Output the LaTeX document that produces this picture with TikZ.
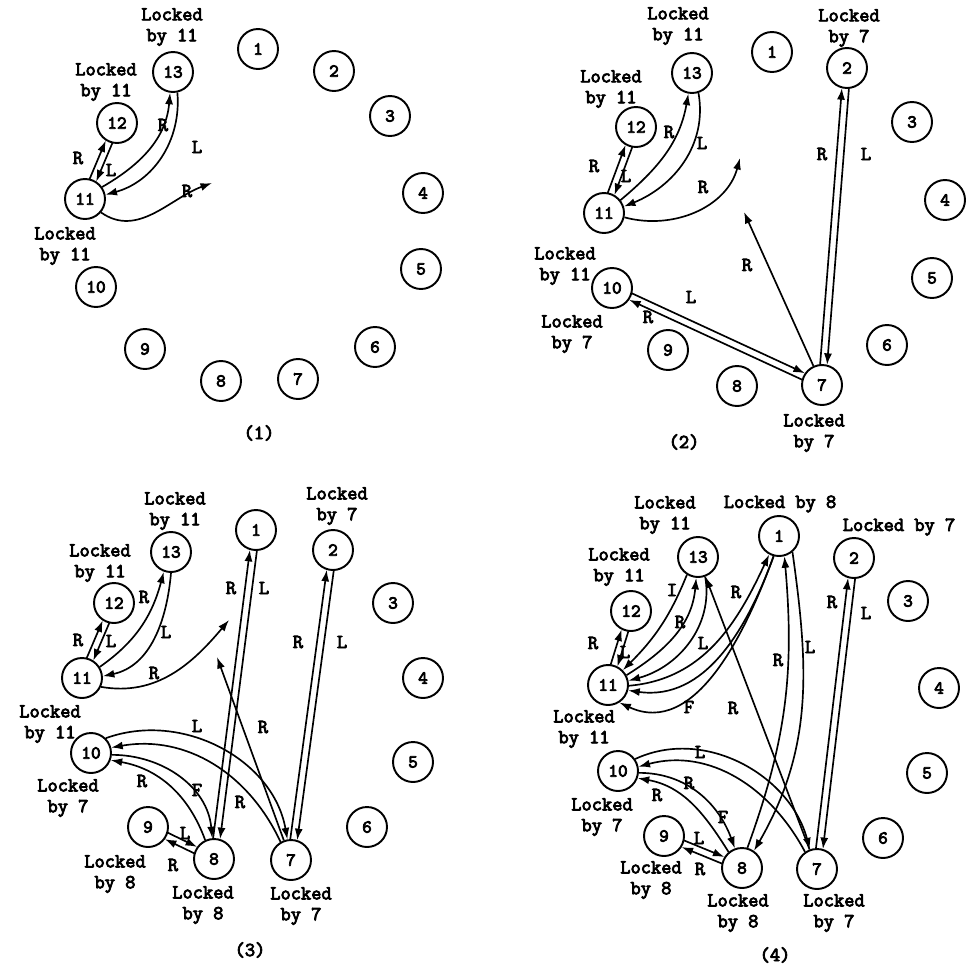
\documentclass[tikz,border=0pt]{standalone}
\usepackage{fontspec}
\setmonofont{Latin Modern Mono}[AutoFakeBold=4]
\usetikzlibrary{calc,arrows.meta}

% request and reply drawn side by side between two sites
\newcommand{\twoway}[2]{%
  \draw[msg,pair] ($(#1)!2pt!90:(#2)$) -- ($(#2)!2pt!-90:(#1)$);
  \draw[msg,pair] ($(#2)!2pt!90:(#1)$) -- ($(#1)!2pt!-90:(#2)$);}

\begin{document}
\begin{tikzpicture}[x=0.02cm, y=-0.02cm,
  site/.style={draw, circle, line width=1.1pt, minimum size=0.8cm, inner sep=0pt,
    font=\fontsize{10.5}{12}\selectfont\ttfamily\bfseries},
  lock/.style={align=center, inner sep=0pt,
    font=\fontsize{11.3}{11.9}\selectfont\ttfamily\bfseries},
  tag/.style={inner sep=0pt, font=\fontsize{11.3}{12}\selectfont\ttfamily\bfseries},
  msg/.style={line width=0.95pt, -{Latex[length=2.3mm,width=1.6mm]}},
  pair/.style={shorten <=0.4cm, shorten >=0.41cm}]
\useasboundingbox (0,0) rectangle (969,967);

% (1)
\foreach \n/\x/\y in {1/258/49, 2/334/71, 3/390/116, 4/423/193, 5/421/269, 6/375/347,
  7/298/379, 8/221/381, 9/145/349, 10/96/287, 11/85/199, 12/117/123, 13/173/72}
  \node[site] (a\n) at (\x,\y) {\n};
\node[lock] (a-k13) at (172,27) {Locked\\by 11};
\node[lock] (a-k12) at (106,82) {Locked\\by 11};
\node[lock] (a-k10) at (65,246) {Locked\\by 11};
\node[tag] (a-cap) at (259,433) {(1)};
\twoway{a11}{a12}
\draw[msg] (a11.35) to[out=30,in=-95] (a13.-98);
\draw[msg] (a13.-78) to[out=-85,in=15] (a11.12);
\coordinate (a-rq) at (212,183);
\draw[msg] (a11.-40) to[out=-35,in=200] (a-rq);
\foreach \t/\x/\y [count=\i] in {R/78/158, L/111/170, R/163/125, L/197/147, R/187/191}
  \node[tag] (a-l\i) at (\x,\y) {\t};

% (2)
\foreach \n/\x/\y in {1/772/52, 2/847/68, 3/912/122, 4/945/200, 5/932/278, 6/887/345,
  7/822/385, 8/737/386, 9/668/350, 10/612/288, 11/604/213, 12/636/127, 13/692/73}
  \node[site] (b\n) at (\x,\y) {\n};
\node[lock] (b-k13) at (678,26) {Locked\\by 11};
\node[lock] (b-k12) at (611,89) {Locked\\by 11};
\node[lock] (b-k10) at (565,266) {Locked\\by 11};
\node[lock] (b-k10b) at (572,334) {Locked\\by 7};
\node[lock] (b-k2) at (849,28) {Locked\\by 7};
\node[lock] (b-k7) at (814,433) {Locked\\by 7};
\node[tag] (b-cap) at (684,442) {(2)};
\twoway{b11}{b12}
\draw[msg] (b11.38) to[out=40,in=-100] (b13.-100);
\draw[msg] (b13.-72) to[out=-80,in=22] (b11.18);
\coordinate (b-rq1) at (740,158);
\draw[msg] (b11.-12) to[out=-15,in=-105] (b-rq1);
\coordinate (b-rq2) at (744,212);
\draw[msg] (b7) -- (b-rq2);
\twoway{b7}{b2}
\twoway{b10}{b7}
\foreach \t/\x/\y [count=\i] in {R/594/166, L/626/176, R/669/132, L/702/143, R/703/187,
  R/747/265, R/822/154, L/866/154, L/691/297, R/648/317}
  \node[tag] (b-l\i) at (\x,\y) {\t};

% (3)
\foreach \n/\x/\y in {1/256/530, 2/333/550, 3/393/603, 4/423/678, 5/413/762, 6/367/827,
  7/291/860, 8/214/859, 9/148/827, 10/91/753, 11/82/678, 12/114/603, 13/171/552}
  \node[site] (c\n) at (\x,\y) {\n};
\node[lock] (c-k13) at (175,511) {Locked\\by 11};
\node[lock] (c-k12) at (100,563) {Locked\\by 11};
\node[lock] (c-k10) at (50,724) {Locked\\by 11};
\node[lock] (c-k10b) at (68,798) {Locked\\by 7};
\node[lock] (c-k9) at (115,874) {Locked\\by 8};
\node[lock] (c-k8) at (203,905) {Locked\\by 8};
\node[lock] (c-k7) at (301,906) {Locked\\by 7};
\node[lock] (c-k2) at (337,506) {Locked\\by 7};
\node[tag] (c-cap) at (250,950) {(3)};
\twoway{c11}{c12}
\draw[msg] (c11.32) to[out=35,in=-105] (c13.-110);
\draw[msg] (c13.-90) to[out=-95,in=12] (c11.5);
\coordinate (c-rq1) at (229,620);
\draw[msg] (c11.-25) to[out=-10,in=230] (c-rq1);
\coordinate (c-rq2) at (217,657);
\draw[msg] (c7) -- (c-rq2);
\twoway{c8}{c1}
\twoway{c7}{c2}
\draw[msg] (c10.45) to[out=20,in=100] (c7.100);
\draw[msg] (c7.120) to[out=115,in=10] (c10.15);
\draw[msg] (c10.-5) to[out=0,in=95] (c8.95);
\draw[msg] (c8.115) to[out=110,in=-10] (c10.-20);
\twoway{c9}{c8}
\foreach \t/\x/\y [count=\i] in {R/78/640, L/111/641, R/144/597, L/166/632, R/154/673,
  R/231/588, L/264/588, R/298/642, L/342/642, R/263/727, L/197/726, R/240/802,
  R/142/781, F/197/790, L/185/833, R/173/865}
  \node[tag] (c-l\i) at (\x,\y) {\t};

% (4)
\foreach \n/\x/\y in {1/779/536, 2/854/558, 3/908/601, 4/939/688, 5/927/773, 6/883/838,
  7/817/869, 8/742/868, 9/664/836, 10/618/771, 11/608/685, 12/631/611, 13/698/557}
  \node[site] (d\n) at (\x,\y) {\n};
\node[lock] (d-k13) at (665,515) {Locked\\by 11};
\node[lock] (d-k12) at (619,567) {Locked\\by 11};
\node[lock] (d-k1) at (780,504) {Locked by 8};
\node[lock] (d-k2) at (899,527) {Locked by 7};
\node[lock] (d-k11) at (584,729) {Locked\\by 11};
\node[lock] (d-k10) at (602,817) {Locked\\by 7};
\node[lock] (d-k9) at (651,880) {Locked\\by 8};
\node[lock] (d-k8) at (738,913) {Locked\\by 8};
\node[lock] (d-k7) at (834,913) {Locked\\by 7};
\node[tag] (d-cap) at (775,955) {(4)};
\twoway{d11}{d12}
\draw[msg] (d13.-122) to[out=-112,in=45] (d11.45);
\draw[msg] (d11.28) to[out=32,in=-95] (d13.-95);
\draw[msg] (d13.-70) to[out=-80,in=15] (d11.12);
\draw[msg] (d11.-2) to[out=5,in=-115] (d1.-118);
\draw[msg] (d1.-105) to[out=-110,in=-8] (d11.-15);
\draw[msg] (d1.-105) to[out=-110,in=-25] (d11.-57);
\draw[msg] (d8.75) to[out=70,in=-85] (d1.-75);
\draw[msg] (d1.-50) to[out=-82,in=60] (d8.55);
\draw[msg] (d7) -- (d13);
\twoway{d7}{d2}
\draw[msg] (d10.35) to[out=25,in=105] (d7.110);
\draw[msg] (d7.125) to[out=118,in=15] (d10.12);
\draw[msg] (d10.-5) to[out=0,in=110] (d8.110);
\draw[msg] (d8.130) to[out=122,in=-10] (d10.-20);
\twoway{d9}{d8}
\foreach \t/\x/\y [count=\i] in {R/593/643, L/625/652, I/672/590, R/680/622, L/703/643,
  R/736/592, F/689/707, R/733/708, R/778/660, L/810/647, R/832/602, L/866/613,
  L/700/752, R/689/783, R/657/795, F/723/817, L/699/838, R/700/869}
  \node[tag] (d-l\i) at (\x,\y) {\t};
\end{tikzpicture}
\end{document}
